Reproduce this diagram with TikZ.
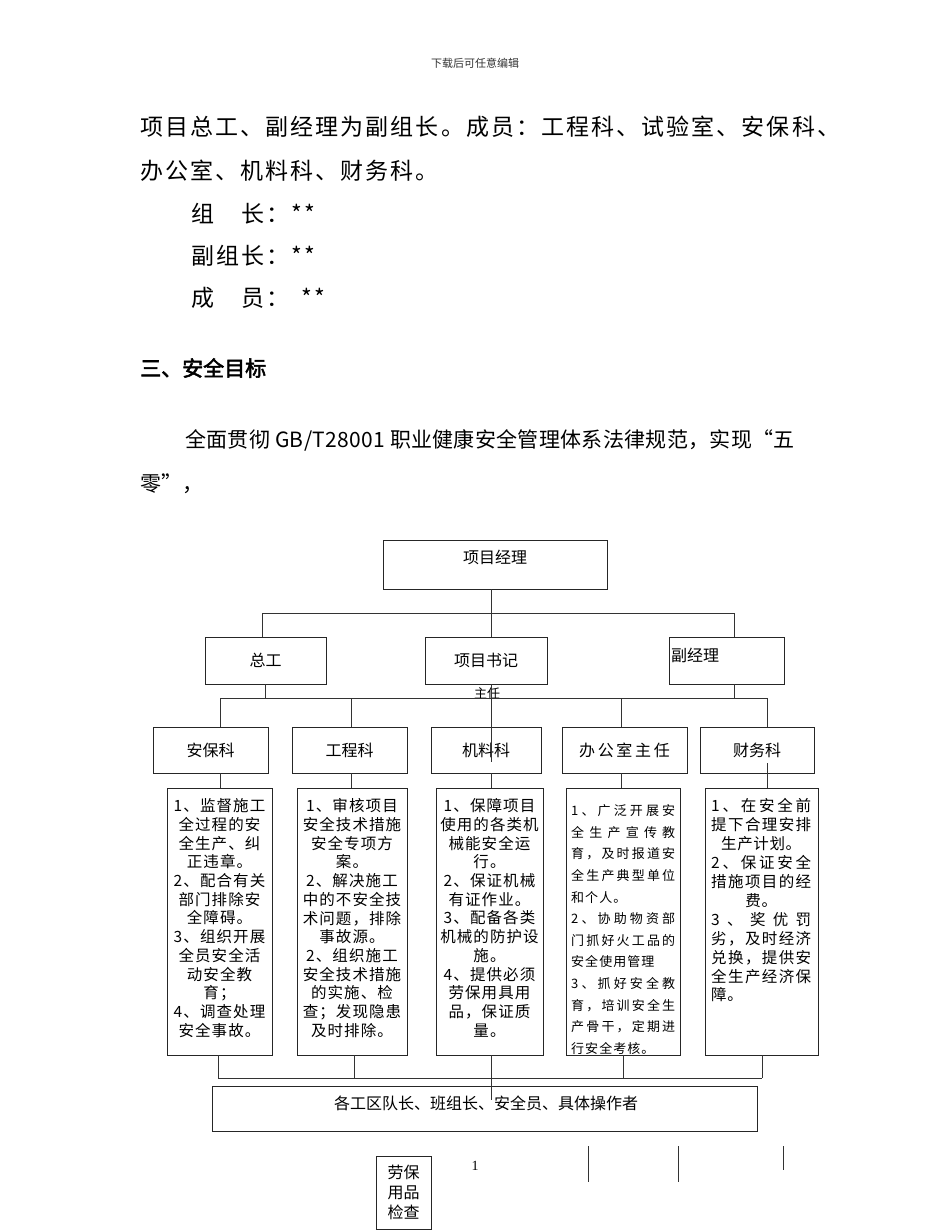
\documentclass[tikz,border=0pt]{standalone}
\usepackage{fontspec}
\setmainfont{Noto Sans CJK SC}[AutoFakeBold=2.5]
\newfontfamily\serifnum{Liberation Serif}
\usetikzlibrary{calc}
\def\sprd#1{#1\sprdnext}
\def\sprdnext#1{\ifx#1\relax\else\hfill#1\expandafter\sprdnext\fi}
\newcommand\jl[2][104pt]{\makebox[#1][s]{\sprd#2\relax}}
\begin{document}
\begin{tikzpicture}[x=1pt,y=-1pt,
  ln/.style={draw=black!80, line width=0.7pt},
  bx/.style={draw=black!85, line width=0.8pt, inner sep=0pt},
  t16/.style={font=\fontsize{16}{16}\selectfont, inner sep=0pt},
  para/.style={font=\fontsize{23}{23}\selectfont\addfontfeature{LetterSpace=9}, inner sep=0pt, anchor=west},
  dt/.style={font=\fontsize{15.5}{18.7}\selectfont\addfontfeature{LetterSpace=7}, align=center, inner sep=0pt, anchor=north},
]
\fill[white] (0,0) rectangle (950,1230);
\useasboundingbox (0,0) rectangle (950,1230);

% ---- page text ----
\node[font=\fontsize{11}{11}\selectfont, text=black!80, inner sep=0pt] (hdr) at (475,63) {下载后可任意编辑};
\node[para] (p1) at (140,127) {项目总工、副经理为副组长。成员：工程科、试验室、安保科、};
\node[para] (p2) at (140,171) {办公室、机料科、财务科。};
\node[para] (p3) at (191,214) {组　长：**};
\node[para] (p4) at (191,256) {副组长：**};
\node[para] (p5) at (191,298) {成　员：\hspace{12pt}**};
\node[font=\fontsize{21}{21}\selectfont\bfseries, inner sep=0pt, anchor=west] (h3) at (140,368) {三、安全目标};
\node[font=\fontsize{21}{21}\selectfont\addfontfeature{LetterSpace=1.5}, inner sep=0pt, anchor=west] (p6) at (185,440) {全面贯彻 GB/T28001 职业健康安全管理体系法律规范，实现“五};
\node[font=\fontsize{21}{21}\selectfont, inner sep=0pt, anchor=west] (p7) at (140,484) {零”，};

% ---- chart: top levels ----
\node[bx, minimum width=224pt, minimum height=49pt] (pm) at (495,564.5) {};
\node[t16] (pmt) at (495,557) {项目经理};
\node[bx, t16, minimum width=121pt, minimum height=47pt] (zg) at (265.5,660.5) {总工};
\node[bx, t16, minimum width=122pt, minimum height=47pt] (sj) at (486,660.5) {项目书记};
\node[bx, minimum width=115pt, minimum height=47pt] (fj) at (726.5,660.5) {};
\node[t16, anchor=west] (fjt) at (671,655) {副经理};
\node[font=\fontsize{13}{13}\selectfont, inner sep=0pt] (zr) at (487,694) {主任};

% ---- departments ----
\node[bx, t16, minimum width=115pt, minimum height=46pt] (ab) at (210.5,750) {安保科};
\node[bx, t16, minimum width=115pt, minimum height=46pt] (gc) at (349.5,750) {工程科};
\node[bx, t16, minimum width=110pt, minimum height=46pt] (jl) at (486,750) {机料科};
\node[bx, t16, minimum width=125pt, minimum height=46pt] (bg) at (624.5,750) {\addfontfeature{LetterSpace=17}办公室主任};
\node[bx, t16, minimum width=114pt, minimum height=46pt] (cw) at (757,750) {财务科};

% ---- duty boxes ----
\node[bx, minimum width=105pt, minimum height=267pt] (d1) at (219.5,921.5) {};
\node[bx, minimum width=110pt, minimum height=267pt] (d2) at (352,921.5) {};
\node[bx, minimum width=107pt, minimum height=267pt] (d3) at (489.5,921.5) {};
\node[bx, minimum width=114pt, minimum height=267pt] (d4) at (623,921.5) {};
\node[bx, minimum width=113pt, minimum height=267pt] (d5) at (761.5,921.5) {};

\node[dt] (d1t) at (219.5,798.5) {1、监督施工\\全过程的安\\全生产、纠\\正违章。\\2、配合有关\\部门排除安\\全障碍。\\3、组织开展\\全员安全活\\动安全教\\育；\\4、调查处理\\安全事故。};
\node[dt] (d2t) at (352,798.5) {1、审核项目\\安全技术措施\\安全专项方\\案。\\2、解决施工\\中的不安全技\\术问题，排除\\事故源。\\2、组织施工\\安全技术措施\\的实施、检\\查；发现隐患\\及时排除。};
\node[dt] (d3t) at (489.5,798.5) {1、保障项目\\使用的各类机\\械能安全运\\行。\\2、保证机械\\有证作业。\\3、配备各类\\机械的防护设\\施。\\4、提供必须\\劳保用具用\\品，保证质\\量。};
\node[font=\fontsize{13}{21.6}\selectfont\addfontfeature{LetterSpace=8}, align=left, inner sep=0pt, anchor=north west] (d4t) at (571,804.5)
 {\jl{1、广泛开展安}\\\jl{全生产宣传教}\\\jl{育，及时报道安}\\\jl{全生产典型单位}\\和个人。\\\jl{2、协助物资部}\\\jl{门抓好火工品的}\\安全使用管理\\\jl{3、抓好安全教}\\\jl{育，培训安全生}\\\jl{产骨干，定期进}\\行安全考核。};
\node[font=\fontsize{15.5}{18.9}\selectfont\addfontfeature{LetterSpace=4}, align=left, inner sep=0pt, anchor=north west] (d5t) at (711,798.5)
 {\jl[100pt]{1、在安全前}\\\jl[100pt]{提下合理安排}\\\makebox[100pt]{生产计划。}\\\jl[100pt]{2、保证安全}\\\jl[100pt]{措施项目的经}\\\makebox[100pt]{费。}\\\jl[100pt]{3、奖优罚}\\\jl[100pt]{劣，及时经济}\\\jl[100pt]{兑换，提供安}\\\jl[100pt]{全生产经济保}\\障。};

% ---- bottom boxes ----
\node[bx, minimum width=545pt, minimum height=45pt] (ops) at (484.5,1108.5) {};
\node[t16] (opst) at (486,1103) {各工区队长、班组长、安全员、具体操作者};
\node[bx, t16, align=center, minimum width=55pt, minimum height=73pt, font=\fontsize{16}{20}\selectfont] (lb) at (403.5,1192.5) {劳保\\用品\\检查};
\node[font=\serifnum\fontsize{14}{14}\selectfont, inner sep=0pt] (pg) at (475,1166) {1};

% ---- connectors ----
\coordinate (a1) at (491,613);
\coordinate (a1L) at (262,613);
\coordinate (a1R) at (734,613);
\draw[ln] (pm.south -| a1) -- (a1);
\draw[ln] (a1L) -- (a1R);
\draw[ln] (a1L) -- (a1L |- zg.north);
\draw[ln] (a1) -- (a1 |- sj.north);
\draw[ln] (a1R) -- (a1R |- fj.north);

\coordinate (c1) at (220,698);
\coordinate (c2) at (351,698);
\coordinate (c3) at (491,698);
\coordinate (c4) at (621,698);
\coordinate (c5) at (767,698);
\coordinate (jin) at (491,762);
\coordinate (cwin) at (767,763);
\draw[ln] (c1) -- (c5);
\draw[ln] (zg.south) -- (zg.south |- c1);
\draw[ln] (fj.south -| a1R) -- (a1R |- c1);
\draw[ln] (sj.south -| c3) -- (jin);
\draw[ln] (c1) -- (c1 |- ab.north);
\draw[ln] (c2) -- (c2 |- gc.north);
\draw[ln] (c4) -- (c4 |- bg.north);
\draw[ln] (c5) -- (c5 |- cw.north);

\draw[ln] (ab.south -| c1) -- (c1 |- d1.north);
\draw[ln] (gc.south -| c2) -- (c2 |- d2.north);
\draw[ln] (jl.south -| c3) -- (c3 |- d3.north);
\draw[ln] (bg.south -| c4) -- (c4 |- d4.north);
\draw[ln] (cwin) -- (cwin |- d5.north);

\coordinate (e1) at (218,1078);
\coordinate (e2) at (354,1078);
\coordinate (e3) at (491,1078);
\coordinate (e4) at (623,1078);
\coordinate (e5) at (762,1078);
\coordinate (eo) at (491,1100);
\draw[ln] (e1) -- (e5);
\draw[ln] (d1.south -| e1) -- (e1);
\draw[ln] (d2.south -| e2) -- (e2);
\draw[ln] (d3.south -| e3) -- (eo);
\draw[ln] (d4.south -| e4) -- (e4);
\draw[ln] (d5.south -| e5) -- (e5);

% ---- stray strokes at the bottom ----
\draw[ln] (588,1146) -- (588,1182);
\draw[ln] (678,1146) -- (678,1182);
\draw[ln] (783,1146) -- (783,1170);
\end{tikzpicture}
\end{document}
